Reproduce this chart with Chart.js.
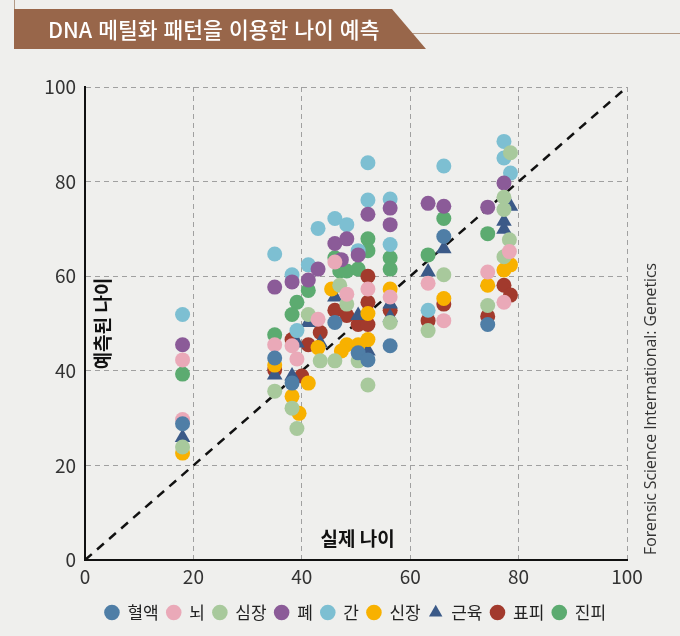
<!DOCTYPE html>
<html lang="ko">
<head>
<meta charset="utf-8">
<script src="https://cdn.jsdelivr.net/npm/chart.js@4/dist/chart.umd.min.js"></script>
<style>
  html, body { margin:0; padding:0; background:#efefed; }
  #wrap { position:relative; width:680px; height:636px; overflow:hidden; background:#efefed; }
  #chart { position:absolute; left:0; top:0; }
  #banner { position:absolute; left:14px; top:9px; width:412px; height:40px;
    background:#98664a; clip-path: polygon(0 0, 378px 0, 412px 40px, 0 40px); }
  #bannerText { position:absolute; left:48px; top:9px; height:40px; line-height:40px; white-space:nowrap;
    color:#fff; font-family:'Noto Sans CJK KR','Noto Sans',sans-serif; font-size:21.5px; font-weight:500; }
  #frameL { position:absolute; left:14px; top:0; width:1px; height:9px; background:#b39a86; }
  #frameT { position:absolute; left:412px; top:33px; width:268px; height:1px; background:#b39a86; }
</style>
</head>
<body>
<div id="wrap">
  <canvas id="chart" width="680" height="636"></canvas>
  <div id="frameL"></div>
  <div id="frameT"></div>
  <div id="banner"></div>
  <div id="bannerText">DNA 메틸화 패턴을 이용한 나이 예측</div>
</div>
<script>
// ---- data (actual age, predicted age) ----
const seriesNames = ['혈액','뇌','심장','폐','간','신장','근육','표피','진피'];
const xTicks = [0,20,40,60,80,100];
const yTicks = [0,20,40,60,80,100];

const bloodAge = [18, 35, 38.2, 46.1, 50.4, 52.2, 56.3, 66.2, 74.3];
const bloodPred = [28.8, 42.7, 37.4, 50.2, 43.8, 42.3, 45.3, 68.4, 49.8];

const brainAge = [18, 18, 35, 38.2, 39.1, 43.0, 46.1, 48.3, 52.2, 56.3, 63.3, 66.2, 74.3, 78.3, 77.3];
const brainPred = [42.3, 29.7, 45.5, 45.3, 42.5, 50.9, 63.0, 56.2, 57.3, 55.6, 58.5, 50.6, 60.9, 65.2, 54.5];

const heartAge = [18, 35, 38.2, 39.1, 41.2, 43.4, 47.0, 48.3, 46.1, 50.4, 52.2, 56.3, 63.3, 66.2, 74.3, 77.3, 78.5, 77.3, 78.3, 77.3];
const heartPred = [23.9, 35.7, 32.1, 27.8, 51.9, 42.1, 58.1, 54.1, 42.1, 42.1, 37.0, 50.2, 48.5, 60.3, 53.8, 76.7, 86.1, 74.1, 67.7, 64.1];

const lungAge = [18, 35, 38.2, 41.2, 43.0, 46.1, 48.3, 50.4, 47.3, 52.2, 56.3, 56.3, 63.3, 66.2, 74.3, 77.3];
const lungPred = [45.5, 57.7, 58.8, 59.2, 61.5, 66.9, 67.9, 64.5, 63.5, 73.1, 74.4, 70.9, 75.4, 74.8, 74.6, 79.7];

const liverAge = [18, 35, 38.2, 39.1, 41.2, 43.0, 46.1, 48.3, 50.4, 52.2, 52.2, 56.3, 56.3, 63.3, 66.2, 77.3, 77.3, 78.5];
const liverPred = [51.9, 64.7, 60.3, 48.5, 62.4, 70.1, 72.2, 70.9, 65.4, 84.0, 76.1, 76.3, 66.7, 52.8, 83.3, 88.5, 85.0, 81.8];

const kidneyAge = [18, 35, 38.2, 39.5, 41.2, 43.0, 45.5, 52.2, 52.2, 48.3, 50.4, 47.3, 56.3, 66.2, 74.3, 78.5, 77.3];
const kidneyPred = [22.6, 41.2, 34.6, 31.0, 37.4, 44.9, 57.3, 52.1, 46.6, 45.5, 45.5, 44.2, 57.3, 55.3, 58.1, 62.4, 61.3];

const muscleAge = [18, 35, 39.1, 38.2, 41.2, 43.4, 46.1, 50.4, 52.2, 56.3, 56.3, 63.3, 66.2, 74.3, 78.5, 77.3, 77.3];
const musclePred = [25.9, 39.1, 45.9, 38.9, 50.2, 45.9, 55.6, 51.7, 44.2, 54.1, 51.3, 60.9, 65.8, 58.8, 74.8, 71.6, 69.9];

const epidermisAge = [35, 38.2, 40.0, 41.2, 43.4, 46.1, 48.3, 50.4, 52.2, 52.2, 52.2, 56.3, 63.3, 66.2, 74.3, 77.3, 78.5];
const epidermisPred = [40.2, 46.6, 38.9, 45.5, 48.1, 52.8, 51.7, 49.8, 60.0, 54.5, 49.8, 52.8, 50.6, 54.1, 51.5, 58.1, 56.0];

const dermisAge = [18, 35, 39.1, 38.2, 41.2, 46.1, 47.0, 48.3, 50.4, 52.2, 52.2, 56.3, 56.3, 63.3, 66.2, 74.3];
const dermisPred = [39.3, 47.6, 54.5, 51.9, 57.0, 63.9, 61.1, 61.1, 61.5, 67.9, 65.4, 63.9, 61.5, 64.5, 72.2, 69.0];

const diagX = [0, 100];
const diagY = [0, 100];

// ---- styling ----
const colors = ['#4f7ea6','#eaa9b8','#a8c99c','#8b5b98','#7dbfd2','#f8b100','#3b5a88','#a23a2d','#5cab70'];
const styles = ['circle','circle','circle','circle','circle','circle','triangle','circle','circle'];
const agesList = [bloodAge, brainAge, heartAge, lungAge, liverAge, kidneyAge, muscleAge, epidermisAge, dermisAge];
const predList = [bloodPred, brainPred, heartPred, lungPred, liverPred, kidneyPred, musclePred, epidermisPred, dermisPred];

const zip = (xs, ys) => xs.map((x, i) => ({x, y: ys[i]}));

const datasets = seriesNames.map((name, i) => ({
  label: name,
  data: zip(agesList[i], predList[i]),
  backgroundColor: colors[i],
  borderColor: colors[i],
  borderWidth: 0,
  pointStyle: styles[i],
  pointRadius: styles[i] === 'triangle' ? 9 : 7.5,
  pointHoverRadius: 7.5,
}));
datasets.push({
  label: 'diag',
  type: 'line',
  data: zip(diagX, diagY),
  borderColor: '#111',
  borderWidth: 2.5,
  borderDash: [9, 7],
  pointRadius: 0,
  fill: false,
});

const FONT = "'Noto Sans CJK KR','Noto Sans',sans-serif";
Chart.defaults.font.family = FONT;

const overlayText = {
  id: 'overlayText',
  afterDraw(chart) {
    const ctx = chart.ctx;
    const xs = chart.scales.x, ys = chart.scales.y;
    ctx.save();
    ctx.fillStyle = '#111';
    ctx.font = "bold 19px " + FONT;
    ctx.textAlign = 'center';
    ctx.textBaseline = 'middle';
    ctx.fillText('실제 나이', xs.getPixelForValue(50.3), ys.getPixelForValue(4.4));
    ctx.translate(xs.getPixelForValue(3.3), ys.getPixelForValue(50));
    ctx.rotate(-Math.PI / 2);
    ctx.fillText('예측된 나이', 0, 0);
    ctx.restore();
    ctx.save();
    ctx.fillStyle = '#333';
    ctx.font = "15.8px 'Open Sans','Noto Sans',sans-serif";
    ctx.textAlign = 'left';
    ctx.textBaseline = 'middle';
    ctx.translate(651, 555);
    ctx.rotate(-Math.PI / 2);
    ctx.fillText('Forensic Science International: Genetics', 0, 0);
    ctx.restore();
  }
};

// shift the legend so it is centred under the plot area
const legendShift = {
  id: 'legendShift',
  afterLayout(chart) {
    const lg = chart.legend;
    if (lg) { lg.left += 42; lg.right += 42; }
  }
};

new Chart(document.getElementById('chart'), {
  type: 'scatter',
  data: { datasets },
  plugins: [overlayText, legendShift],
  options: {
    responsive: false,
    animation: false,
    events: [],
    layout: { padding: { top: 87, left: 0, right: 53, bottom: 5 } },
    scales: {
      x: {
        type: 'linear', min: 0, max: 100,
        afterBuildTicks: (s) => { s.ticks = xTicks.map(v => ({value: v})); },
        afterFit: (s) => { s.height = 36; },
        ticks: { color: '#333', font: { size: 19 }, padding: 5 },
        grid: { color: '#a0a0a0', lineWidth: 1, drawTicks: false },
        border: { display: true, color: '#111', width: 2, dash: [5, 4] },
      },
      y: {
        type: 'linear', min: 0, max: 100,
        afterBuildTicks: (s) => { s.ticks = yTicks.map(v => ({value: v})); },
        afterFit: (s) => { s.width = 85; },
        ticks: { color: '#333', font: { size: 19 }, padding: 9 },
        grid: { color: '#a0a0a0', lineWidth: 1, drawTicks: false },
        border: { display: true, color: '#111', width: 2, dash: [5, 4] },
      }
    },
    plugins: {
      legend: {
        position: 'bottom',
        labels: {
          usePointStyle: true,
          boxWidth: 14, boxHeight: 11,
          padding: 8,
          color: '#222',
          font: { size: 17 },
          filter: (item) => item.text !== 'diag',
        }
      },
      tooltip: { enabled: false },
    }
  }
});
</script>
</body>
</html>
